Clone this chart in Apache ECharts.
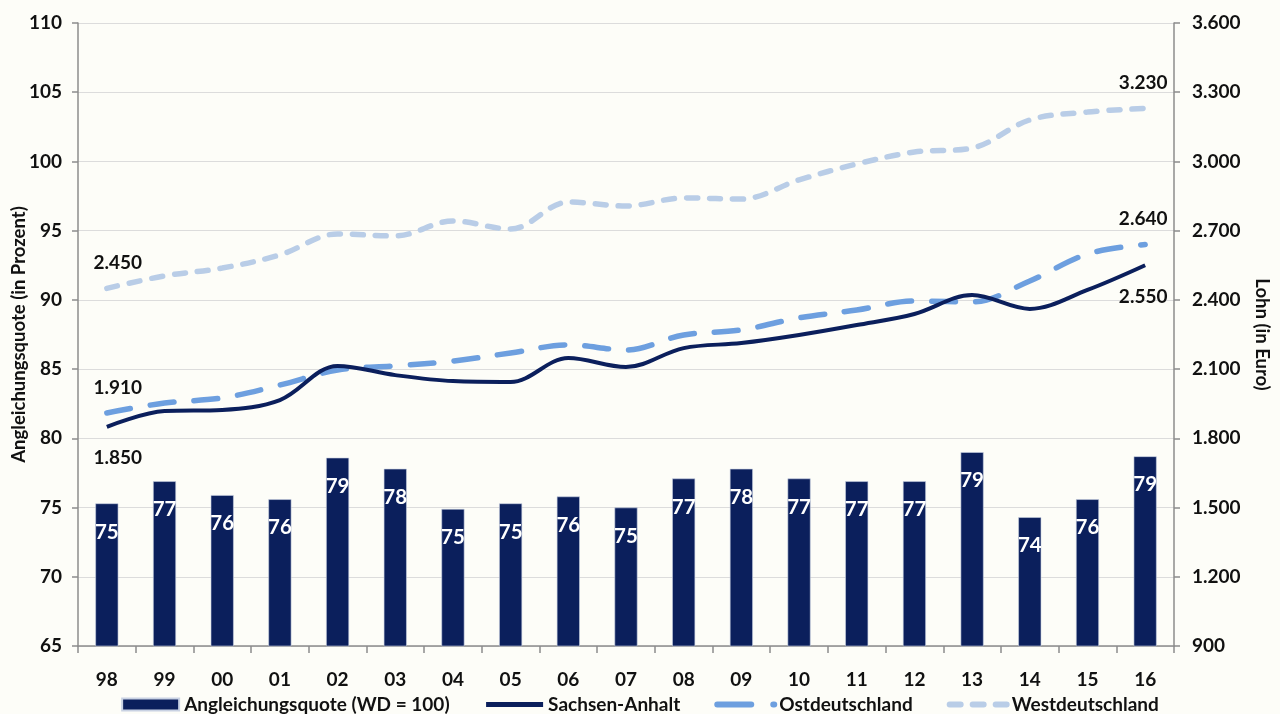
<!DOCTYPE html>
<html>
<head>
<meta charset="utf-8">
<script src="https://cdn.jsdelivr.net/npm/echarts@6/dist/echarts.min.js"></script>
<style>
  html, body { margin: 0; padding: 0; background: #fdfdf8; }
  #chart { width: 1280px; height: 714px; }
</style>
</head>
<body>
<div id="chart"></div>
<script>
// Jahre (zweistellig)
const years = ['98','99','00','01','02','03','04','05','06','07','08','09','10','11','12','13','14','15','16'];

// Angleichungsquote Sachsen-Anhalt (Westdeutschland = 100), in Prozent
const quote = [75.3, 76.9, 75.9, 75.6, 78.6, 77.8, 74.9, 75.3, 75.8, 75.0, 77.1, 77.8, 77.1, 76.9, 76.9, 79.0, 74.3, 75.6, 78.7];

// Lohn in Euro
const sachsenAnhalt = [1850, 1918, 1923, 1966, 2114, 2074, 2048, 2044, 2148, 2109, 2191, 2213, 2248, 2291, 2339, 2421, 2361, 2443, 2550];
const ostdeutschland = [1910, 1953, 1975, 2031, 2096, 2114, 2135, 2170, 2205, 2183, 2248, 2270, 2322, 2356, 2395, 2391, 2482, 2599, 2640];
const westdeutschland = [2450, 2504, 2538, 2595, 2686, 2677, 2742, 2707, 2824, 2807, 2842, 2837, 2920, 2989, 3041, 3058, 3180, 3214, 3230];

// Achsen
const leftAxis = { min: 65, max: 110, interval: 5 };
const rightAxis = { min: 900, max: 3600, interval: 300 };

const FONT = 'Lato, "Open Sans", sans-serif';
const C_DARK = '#0b1f5c';
const C_OST = '#6d9fdf';
const C_WEST = '#b9cde7';

// Tausenderpunkt nach deutscher Schreibweise
const fmtEuro = v => String(Math.round(v)).replace(/\B(?=(\d{3})+(?!\d))/g, '.');

// Anfangs- und Endwert einer Lohnreihe als unsichtbare Markierung mit Beschriftung
function endMarks(values, below) {
  const last = values.length - 1;
  const label = (dx) => ({
    show: true,
    position: below ? 'bottom' : 'top',
    distance: below ? 21 : 15,
    offset: [dx, 0],
    formatter: p => fmtEuro(p.value),
    color: '#111', fontFamily: FONT, fontWeight: 'bold', fontSize: 19
  });
  return {
    symbol: 'circle',
    symbolSize: 2,
    silent: true,
    itemStyle: { color: 'rgba(0,0,0,0)' },
    data: [
      { coord: [years[0], values[0]], value: values[0], label: label(11) },
      { coord: [years[last], values[last]], value: values[last], label: label(-2) }
    ]
  };
}

const axisLabelStyle = { color: '#111', fontFamily: FONT, fontWeight: 'bold', fontSize: 19 };
const axisLine = { show: true, lineStyle: { color: '#8c8c8c', width: 1.5 } };
const nameStyle = { color: '#111', fontFamily: FONT, fontWeight: 'bold', fontSize: 18.5 };

const chart = echarts.init(document.getElementById('chart'), null, { renderer: 'canvas' });

chart.setOption({
  backgroundColor: '#fdfdf8',
  animation: false,
  grid: { left: 78, right: 106, top: 23, bottom: 68, containLabel: false, outerBoundsMode: 'none' },
  legend: {
    bottom: -5,
    left: 'center',
    itemGap: 34,
    itemWidth: 57,
    itemHeight: 12,
    textStyle: { color: '#111', fontFamily: FONT, fontWeight: 'bold', fontSize: 19 },
    data: [
      { name: 'Angleichungsquote (WD = 100)', icon: 'rect' },
      { name: 'Sachsen-Anhalt', itemStyle: { opacity: 0 }, lineStyle: { width: 5 } },
      { name: 'Ostdeutschland', itemStyle: { opacity: 0 }, lineStyle: { width: 6, type: [34, 22] } },
      { name: 'Westdeutschland', itemStyle: { opacity: 0 }, lineStyle: { width: 6, type: [11, 12] } }
    ]
  },
  xAxis: {
    type: 'category',
    data: years,
    boundaryGap: true,
    axisLine: axisLine,
    axisTick: { show: true, alignWithLabel: false, length: 7, lineStyle: { color: '#8c8c8c', width: 1.5 } },
    axisLabel: Object.assign({ margin: 24 }, axisLabelStyle),
    splitLine: { show: false }
  },
  yAxis: [
    {
      type: 'value',
      min: leftAxis.min, max: leftAxis.max, interval: leftAxis.interval,
      name: 'Angleichungsquote (in Prozent)',
      nameLocation: 'middle',
      nameGap: 49,
      nameMoveOverlap: false,
      nameTextStyle: nameStyle,
      axisLine: axisLine,
      axisTick: { show: true, length: 6, inside: false, lineStyle: { color: '#8c8c8c', width: 1.5 } },
      axisLabel: Object.assign({ margin: 16 }, axisLabelStyle),
      splitLine: { show: true, lineStyle: { color: '#dcdcdc', width: 1.2 } }
    },
    {
      type: 'value',
      min: rightAxis.min, max: rightAxis.max, interval: rightAxis.interval,
      name: 'Lohn (in Euro)',
      nameLocation: 'middle',
      nameRotate: -90,
      nameGap: 78,
      nameMoveOverlap: false,
      nameTextStyle: nameStyle,
      axisLine: axisLine,
      axisTick: { show: true, length: 6, lineStyle: { color: '#8c8c8c', width: 1.5 } },
      axisLabel: Object.assign({ margin: 18, formatter: v => fmtEuro(v) }, axisLabelStyle),
      splitLine: { show: false }
    }
  ],
  series: [
    {
      name: 'Angleichungsquote (WD = 100)',
      type: 'bar',
      yAxisIndex: 0,
      data: quote,
      barWidth: 23,
      itemStyle: { color: C_DARK, borderColor: '#c9d2e3', borderWidth: 0.6 },
      label: {
        show: true,
        position: 'insideTop',
        distance: 18,
        formatter: p => String(Math.round(p.value)),
        color: '#ffffff', fontFamily: FONT, fontWeight: 'bold', fontSize: 20.5
      },
      z: 2
    },
    {
      name: 'Westdeutschland',
      type: 'line',
      yAxisIndex: 1,
      data: westdeutschland,
      smooth: 0.35,
      symbol: 'none',
      lineStyle: { color: C_WEST, width: 5.5, type: [11, 12], cap: 'round' },
      itemStyle: { color: C_WEST },
      markPoint: endMarks(westdeutschland, false),
      z: 3
    },
    {
      name: 'Ostdeutschland',
      type: 'line',
      yAxisIndex: 1,
      data: ostdeutschland,
      smooth: 0.35,
      symbol: 'none',
      lineStyle: { color: C_OST, width: 5.5, type: [24, 20], cap: 'round' },
      itemStyle: { color: C_OST },
      markPoint: endMarks(ostdeutschland, false),
      z: 4
    },
    {
      name: 'Sachsen-Anhalt',
      type: 'line',
      yAxisIndex: 1,
      data: sachsenAnhalt,
      smooth: 0.35,
      symbol: 'none',
      lineStyle: { color: C_DARK, width: 4 },
      itemStyle: { color: C_DARK },
      markPoint: endMarks(sachsenAnhalt, true),
      z: 5
    }
  ]
});
</script>
</body>
</html>
